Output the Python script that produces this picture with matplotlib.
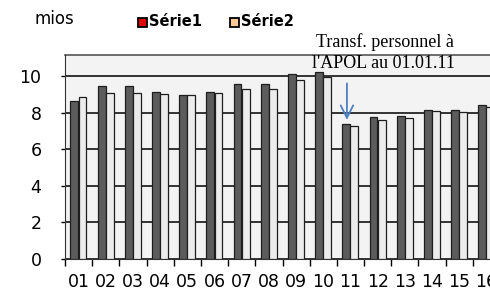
import matplotlib
matplotlib.use("Agg")
import matplotlib.pyplot as plt
from matplotlib.patches import Rectangle
import numpy as np

# values (mios)
categories = ["01", "02", "03", "04", "05", "06", "07", "08",
              "09", "10", "11", "12", "13", "14", "15", "16"]
serie1 = [8.65, 9.45, 9.45, 9.15, 8.95, 9.15, 9.55, 9.55,
          10.1, 10.2, 7.4, 7.75, 7.8, 8.15, 8.15, 8.4]
serie2 = [8.85, 9.05, 9.05, 9.0, 8.95, 9.1, 9.3, 9.3,
          9.8, 9.95, 7.25, 7.6, 7.7, 8.1, 8.05, 8.3]
yticks = [0, 2, 4, 6, 8, 10]
legend_names = ["Série1", "Série2"]
legend_colors = ["#e00000", "#f8c896"]

W, H = 490, 290
fig = plt.figure(figsize=(W / 100, H / 100), dpi=100)
# axis runs past the right edge like in the original
ax = fig.add_axes([65 / W, (H - 259) / H, 435 / W, 204 / H])
ax.set_facecolor("#f3f3f3")

x = np.arange(len(categories))
bw = 0.29
ax.bar(x + 0.345, serie1, width=bw, color="#5c5c5c", edgecolor="#1e1e1e",
       linewidth=0.9, zorder=3)
ax.bar(x + 0.645, serie2, width=bw, color="#ececec", edgecolor="#1e1e1e",
       linewidth=0.9, zorder=3)

ax.set_xlim(0, len(categories))
ax.set_ylim(0, 11.15)
ax.set_yticks(yticks)
ax.set_yticklabels([str(v) for v in yticks])
ax.yaxis.grid(True, color="black", linewidth=1.1, zorder=0)
ax.set_axisbelow(True)

ax.set_xticks(np.arange(len(categories) + 1))
ax.set_xticklabels([])
ax.set_xticks(x + 0.5, minor=True)
ax.set_xticklabels(categories, minor=True)
ax.tick_params(axis="x", which="major", length=5, width=1, direction="out")
ax.tick_params(axis="x", which="minor", length=0, pad=10, labelsize=12.5)
ax.tick_params(axis="y", length=3, width=1, pad=14, labelsize=12.5)

for s in ["top", "right"]:
    ax.spines[s].set_visible(False)
ax.spines["left"].set_color("#333333")
ax.spines["bottom"].set_color("#333333")
ax.axhline(11.15, color="#555555", linewidth=1.2, zorder=1, clip_on=False)

# arrow and note
ax.annotate("", xy=(10.37, 7.45), xytext=(10.37, 9.75),
            arrowprops=dict(arrowstyle="->,head_length=0.9,head_width=0.45",
                            color="#4f7fc4", lw=1.3), zorder=5)
fig.text(385 / W, 1 - 42 / H, "Transf. personnel à", family="Liberation Serif",
         fontsize=13, ha="center", va="center")
fig.text(384 / W, 1 - 63 / H, "l'APOL au 01.01.11", family="Liberation Serif",
         fontsize=13, ha="center", va="center")

fig.text(35 / W, 1 - 19 / H, "mios", fontsize=12, ha="left", va="center")

# legend drawn by hand to place it like the original
for px, name, col in zip([138, 230], legend_names, legend_colors):
    fig.patches.append(Rectangle((px / W, 1 - 27 / H), 9 / W, 9 / H,
                                 facecolor=col, edgecolor="black",
                                 linewidth=1.3, transform=fig.transFigure))
    fig.text((px + 11) / W, 1 - 22 / H, name, fontsize=10.5, weight="bold",
             ha="left", va="center")

fig.savefig("out.png", dpi=100)
